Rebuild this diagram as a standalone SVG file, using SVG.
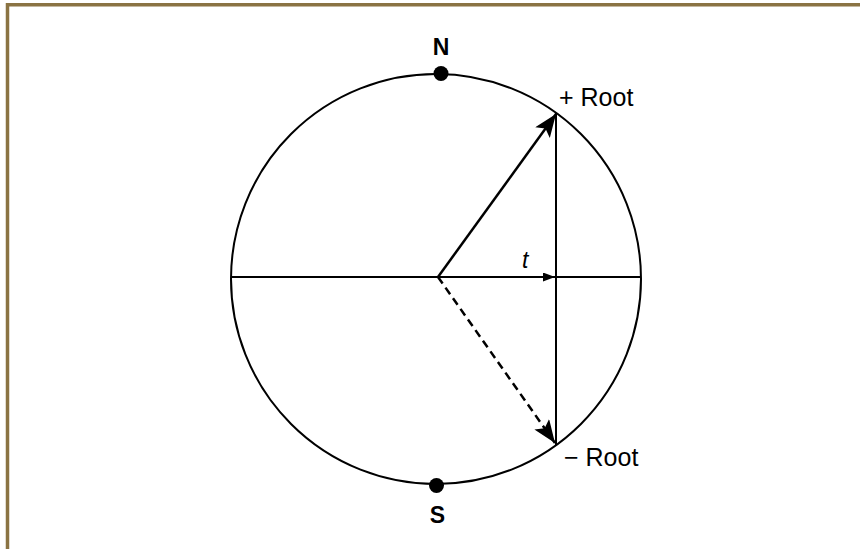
<svg xmlns="http://www.w3.org/2000/svg" width="860" height="549" viewBox="0 0 860 549">
<style>
.frame{stroke:#8a7343;stroke-width:3.5;fill:none}
.ln{stroke:#000;fill:none;stroke-width:2}
.vec{stroke:#000;fill:none;stroke-width:2.5}
.lbl{font-family:"Liberation Sans",Arial,sans-serif;fill:#000}
.pole{font-family:"Liberation Sans",Arial,sans-serif;font-weight:bold;font-size:23px;fill:#000;text-anchor:middle}
</style>
<defs>
<marker id="big" markerUnits="userSpaceOnUse" markerWidth="26" markerHeight="20" refX="23" refY="9" orient="auto">
<path d="M0,0 L23,9 L0,18 L5,9 Z" fill="#000"/>
</marker>
<marker id="small" markerUnits="userSpaceOnUse" markerWidth="14" markerHeight="10" refX="12" refY="4.5" orient="auto">
<path d="M0,0 L12,4.5 L0,9 Z" fill="#000"/>
</marker>
</defs>
<rect width="860" height="549" fill="#fff"/>
<path class="frame" d="M7.5,549 V4.7 H860"/>
<g id="circle">
<circle class="ln" cx="436" cy="279" r="205"/>
</g>
<g id="connectors">
<line class="ln" x1="231" y1="277" x2="641" y2="277"/>
<line class="ln" x1="556" y1="113" x2="556" y2="445"/>
<line class="ln" x1="438" y1="277" x2="555" y2="277" marker-end="url(#small)"/>
<line class="vec" x1="438" y1="277" x2="556" y2="114" marker-end="url(#big)"/>
<line class="vec" x1="438" y1="277" x2="555" y2="443" stroke-dasharray="8,5" marker-end="url(#big)"/>
</g>
<g id="N">
<circle cx="441" cy="73.5" r="7.5" fill="#000"/>
<text class="pole" x="441" y="55">N</text>
</g>
<g id="S">
<circle cx="436.5" cy="485.5" r="7.5" fill="#000"/>
<text class="pole" x="437.5" y="523">S</text>
</g>
<g id="plus-root">
<text class="lbl" x="559" y="106" font-size="25">+ Root</text>
</g>
<g id="minus-root">
<text class="lbl" x="564" y="466" font-size="25">− Root</text>
</g>
<g id="t">
<text class="lbl" x="522" y="268" font-size="23" font-style="italic">t</text>
</g>
</svg>
